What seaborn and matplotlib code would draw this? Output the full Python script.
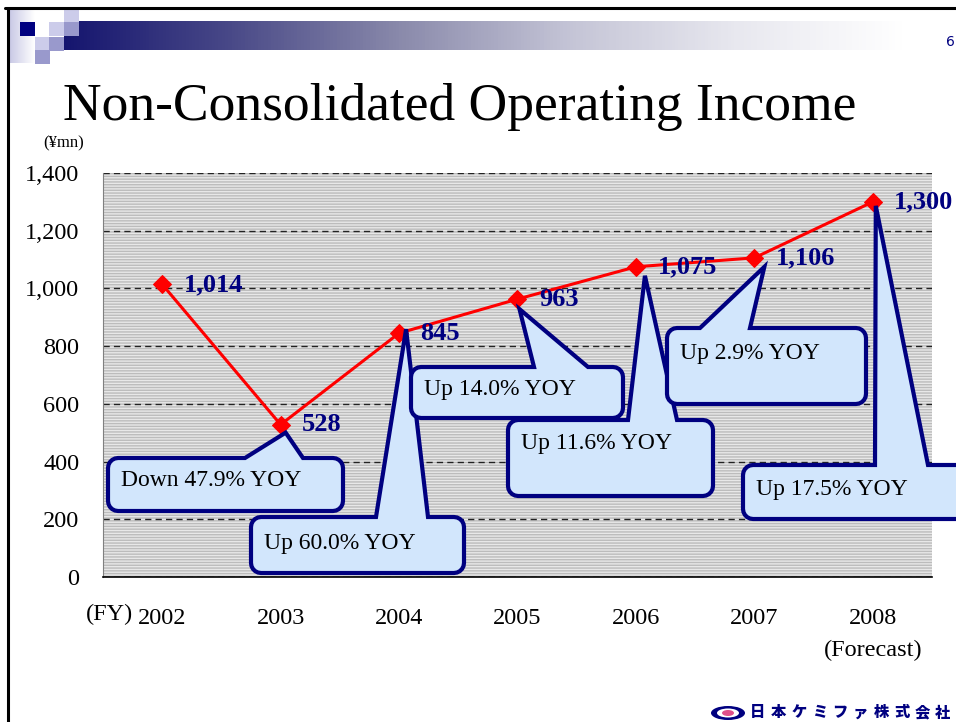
import numpy as np
import matplotlib
matplotlib.use('Agg')
import matplotlib.pyplot as plt
import seaborn as sns
from matplotlib.patches import Polygon, Rectangle, Ellipse
from matplotlib.transforms import Affine2D
from matplotlib.colors import LinearSegmentedColormap

# data
years = ['2002', '2003', '2004', '2005', '2006', '2007', '2008']
income = [1014, 528, 845, 963, 1075, 1106, 1300]
value_labels = ['1,014', '528', '845', '963', '1,075', '1,106', '1,300']
yoy_text = ['Down 47.9% YOY', 'Up 60.0% YOY', 'Up 14.0% YOY',
            'Up 11.6% YOY', 'Up 2.9% YOY', 'Up 17.5% YOY']
y_ticks = [0, 200, 400, 600, 800, 1000, 1200, 1400]

# callout layout in slide pixels: box (x0, y0, x1, y1), wedge base on top edge,
# tip offset from the data point, text centre y
callout_box = [(108, 458, 343, 511), (251, 517, 464, 573), (411, 367, 623, 418),
               (508, 420, 713, 496), (667, 328, 866, 404), (743, 465, 990, 519)]
callout_base = [(245, 303), (376, 428), (534, 588), (628, 677), (700, 750), (875, 928)]
callout_tip = [(5, 8), (7, -4), (2, 10), (9, 9), (10, 9), (3, 4)]
callout_text_y = [481, 543, 390, 444, 354, 489]

W, H = 956, 722
NAVY = '#000080'

sns.set_style('white')
plt.rcParams['font.family'] = ['Liberation Serif', 'DejaVu Serif']
plt.rcParams['hatch.linewidth'] = 1.0
for key in ['text.color', 'axes.labelcolor', 'xtick.color', 'ytick.color']:
    plt.rcParams[key] = 'black'

fig = plt.figure(figsize=(W / 100, H / 100), dpi=100)
px = Affine2D().scale(1 / W, -1 / H).translate(0, 1) + fig.transFigure

# slide decoration layer
bg = fig.add_axes([0, 0, 1, 1], zorder=0)
bg.set_xlim(0, W)
bg.set_ylim(H, 0)
bg.axis('off')

bar_cmap = LinearSegmentedColormap.from_list(
    'bar', ['#15156f', '#4a4a88', '#8a8aab', '#c4c4d6', '#e8e8ef', '#ffffff'])
bg.imshow(np.linspace(0, 1, 256)[None, :], cmap=bar_cmap, aspect='auto',
          extent=[64, 905, 50.5, 21.7], zorder=1)
side_cmap = LinearSegmentedColormap.from_list('side', ['#c6c6e4', '#ffffff'])
bg.imshow(np.linspace(0, 1, 64)[None, :], cmap=side_cmap, aspect='auto',
          extent=[8, 35, 63, 10], zorder=1)
squares = [((20, 22), '#000080'), ((64, 10), '#ccccea'), ((49, 22), '#ccccea'),
           ((64, 22), '#9999cc'), ((35, 37), '#ccccea'), ((49, 37), '#9999cc'),
           ((35, 50), '#9999cc')]
for (sx, sy), c in squares:
    bg.add_patch(Rectangle((sx, sy), 15, 13.5, facecolor=c, lw=0, zorder=2))
bg.plot([5, W], [8, 8], color='black', lw=2.2, zorder=3)
bg.plot([8, 8], [8, H], color='black', lw=2.2, zorder=3)
bg.text(950, 42, '6', color=NAVY, fontsize=10, family='DejaVu Sans',
        ha='center', va='center')

bg.text(460, 120, 'Non-Consolidated Operating Income', fontsize=38.5,
        ha='center', va='baseline')
bg.text(64, 143, '(¥mn)', fontsize=12, ha='center', va='center')

# company logo, bottom right
bg.add_patch(Ellipse((728, 713), 34, 14, facecolor=NAVY, lw=0))
bg.add_patch(Ellipse((728, 713), 22, 9, facecolor='white', lw=0))
bg.add_patch(Ellipse((728, 713), 12, 6, facecolor='#e0508a', lw=0))
for k, ch in enumerate('日本ケミファ株式会社'):
    bg.text(758 + 20.5 * k, 713, ch, fontsize=11, color=NAVY, fontweight='black',
            family=['Noto Sans CJK JP'], ha='center', va='center')

# chart
ax = fig.add_axes([103 / W, 1 - 577 / H, (932 - 103) / W, (577 - 173) / H], zorder=1)
ax.add_patch(Rectangle((0, 0), 1, 1, transform=ax.transAxes, facecolor='#e8e8e8',
                       edgecolor='#bcbcbc', hatch='------', lw=0, zorder=0))
x_pos = np.arange(len(years))
sns.lineplot(x=x_pos, y=income, ax=ax, color='#ff0000', linewidth=2.2,
             marker='D', markersize=9, markeredgecolor='#ff0000', zorder=3)

ax.set_xlim(-0.5, len(years) - 0.5)
ax.set_ylim(0, 1400)
ax.set_yticks(y_ticks, labels=[f'{v:,}' for v in y_ticks])
ax.set_xticks(x_pos, labels=years)
ax.set_xticks(np.arange(-0.5, len(years), 1), minor=True)
ax.tick_params(axis='x', which='major', length=0, pad=22, labelsize=17.5)
ax.tick_params(axis='x', which='minor', direction='in', length=8, width=1, color='black')
ax.tick_params(axis='y', length=0, pad=17, labelsize=17.5)
ax.set_axisbelow(True)
ax.yaxis.grid(True, color='#222222', linestyle=(0, (4.5, 3)), linewidth=1.0)
ax.xaxis.grid(False)
for s in ['top', 'right']:
    ax.spines[s].set_visible(False)
ax.spines['left'].set_color('#808080')
ax.spines['bottom'].set_color('black')
ax.spines['bottom'].set_linewidth(1.2)

bg.text(110, 614, '(FY)', fontsize=17.5, ha='center', va='center')
bg.text(873, 650, '(Forecast)', fontsize=17.5, ha='center', va='center')

for i, (v, lab) in enumerate(zip(income, value_labels)):
    ax.annotate(lab, (i, v), xytext=(15.5, 0), textcoords='offset points',
                ha='left', va='center', fontsize=19, fontweight='bold',
                color=NAVY, zorder=7, annotation_clip=False)


def callout_points(box, base, tip, r=10):
    x0, y0, x1, y1 = box
    pts = []
    for a in np.radians(np.linspace(180, 90, 6)):
        pts.append((x0 + r + r * np.cos(a), y0 + r - r * np.sin(a)))
    pts += [(base[0], y0), tip, (base[1], y0)]
    for a in np.radians(np.linspace(90, 0, 6)):
        pts.append((x1 - r + r * np.cos(a), y0 + r - r * np.sin(a)))
    for a in np.radians(np.linspace(0, -90, 6)):
        pts.append((x1 - r + r * np.cos(a), y1 - r - r * np.sin(a)))
    for a in np.radians(np.linspace(-90, -180, 6)):
        pts.append((x0 + r + r * np.cos(a), y1 - r - r * np.sin(a)))
    return pts


for k, txt in enumerate(yoy_text):
    i = k + 1
    dx, dy = ax.transData.transform((i, income[i]))
    tip = (dx + callout_tip[k][0], H - dy + callout_tip[k][1])
    pts = callout_points(callout_box[k], callout_base[k], tip)
    ax.add_patch(Polygon(pts, closed=True, transform=px, facecolor='#d2e6fc',
                         edgecolor=NAVY, lw=3, joinstyle='miter',
                         clip_on=False, zorder=5 + 0.01 * k))
    ax.text(callout_box[k][0] + 13, callout_text_y[k], txt, transform=px,
            fontsize=17, ha='left', va='center', zorder=5.5 + 0.01 * k, clip_on=False)

fig.savefig('out.png', dpi=100)
